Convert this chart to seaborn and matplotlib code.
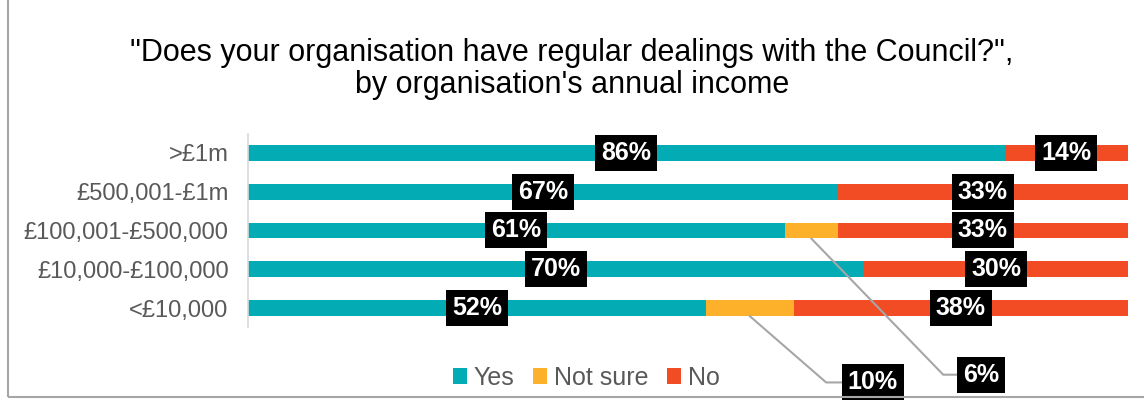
import matplotlib
matplotlib.use("Agg")
import matplotlib.pyplot as plt
from matplotlib.patches import Patch, Rectangle
import numpy as np
import pandas as pd
import seaborn as sns

# Survey responses by annual income band (percent of organisations)
categories = [">£1m", "£500,001-£1m", "£100,001-£500,000", "£10,000-£100,000", "<£10,000"]
yes = [86, 67, 61, 70, 52]
not_sure = [0, 0, 6, 0, 10]
no = [14, 33, 33, 30, 38]
series_names = ["Yes", "Not sure", "No"]
title_text = '"Does your organisation have regular dealings with the Council?",\nby organisation\'s annual income'

colors = {"Yes": "#03ABB4", "Not sure": "#FDB12A", "No": "#F14C24"}

df = pd.DataFrame({"category": categories, "Yes": yes, "Not sure": not_sure, "No": no})
df["cum_yes"] = df["Yes"]
df["cum_ns"] = df["Yes"] + df["Not sure"]
df["cum_no"] = df["cum_ns"] + df["No"]

sns.set_theme(style="white")
plt.rcParams["font.family"] = ["Liberation Sans", "DejaVu Sans"]

fig = plt.figure(figsize=(11.44, 4.07), dpi=100)
ax = fig.add_axes([248 / 1144, 1 - 327.4 / 407, 880 / 1144, 193.8 / 407])

# Stacked bars drawn as overlapping cumulative totals
bar_w = 0.41
for col, name in [("cum_no", "No"), ("cum_ns", "Not sure"), ("cum_yes", "Yes")]:
    sns.barplot(data=df, x=col, y="category", order=categories, orient="h",
                color=colors[name], saturation=1, width=bar_w, ax=ax,
                linewidth=0, errorbar=None)

ax.set_xlim(0, 100)
ax.set_ylim(4.5, -0.5)
ax.set_xlabel("")
ax.set_ylabel("")
ax.set_xticks([])
ax.tick_params(axis="y", length=0, pad=14, labelsize=17.1, labelcolor="#595959")
for s in ["top", "right", "bottom"]:
    ax.spines[s].set_visible(False)
ax.spines["left"].set_color("#D9D9D9")
ax.spines["left"].set_linewidth(1.2)

box_style = dict(boxstyle="square,pad=0.24", facecolor="black", edgecolor="none")
label_kw = dict(color="white", fontsize=18, fontweight="bold", ha="center", va="center",
                bbox=box_style, zorder=5, clip_on=False)

for i in range(len(categories)):
    ax.text(yes[i] / 2, i, f"{yes[i]}%", **label_kw)
    ax.text(yes[i] + not_sure[i] + no[i] / 2, i, f"{no[i]}%", **label_kw)

# Callouts for the small "Not sure" segments, placed below the bars
callout_offsets = {2: (15.0, 3.72, 19.3), 4: (8.7, 1.92, 14.0)}
for i, (d_elbow, dy, d_box) in callout_offsets.items():
    cx = yes[i] + not_sure[i] / 2
    y0 = i + bar_w / 2
    ex, ey = cx + d_elbow, i + dy
    bx = cx + d_box
    ax.plot([cx, ex, bx], [y0, ey, ey], color="#A6A6A6", lw=1.5,
            clip_on=False, zorder=4, solid_joinstyle="miter")
    ax.text(bx, ey, f"{not_sure[i]}%", **label_kw)

handles = [Patch(facecolor=colors[n], edgecolor="none", label=n) for n in series_names]
fig.legend(handles=handles, loc="center", bbox_to_anchor=(586 / 1144, 1 - 378 / 407),
           ncol=3, frameon=False, fontsize=18, labelcolor="#595959",
           handlelength=0.58, handleheight=0.58, handletextpad=0.25, columnspacing=0.75)

fig.text(0.5, 1 - 69 / 407, title_text, ha="center", va="center",
         fontsize=22, color="black", linespacing=1.08)

# Outer frame of the chart area
fig.patches.append(Rectangle((8, 10), 1200, 450, transform=None, fill=False,
                             edgecolor="#A6A6A6", linewidth=1.5))

fig.savefig("out.png", dpi=100)
